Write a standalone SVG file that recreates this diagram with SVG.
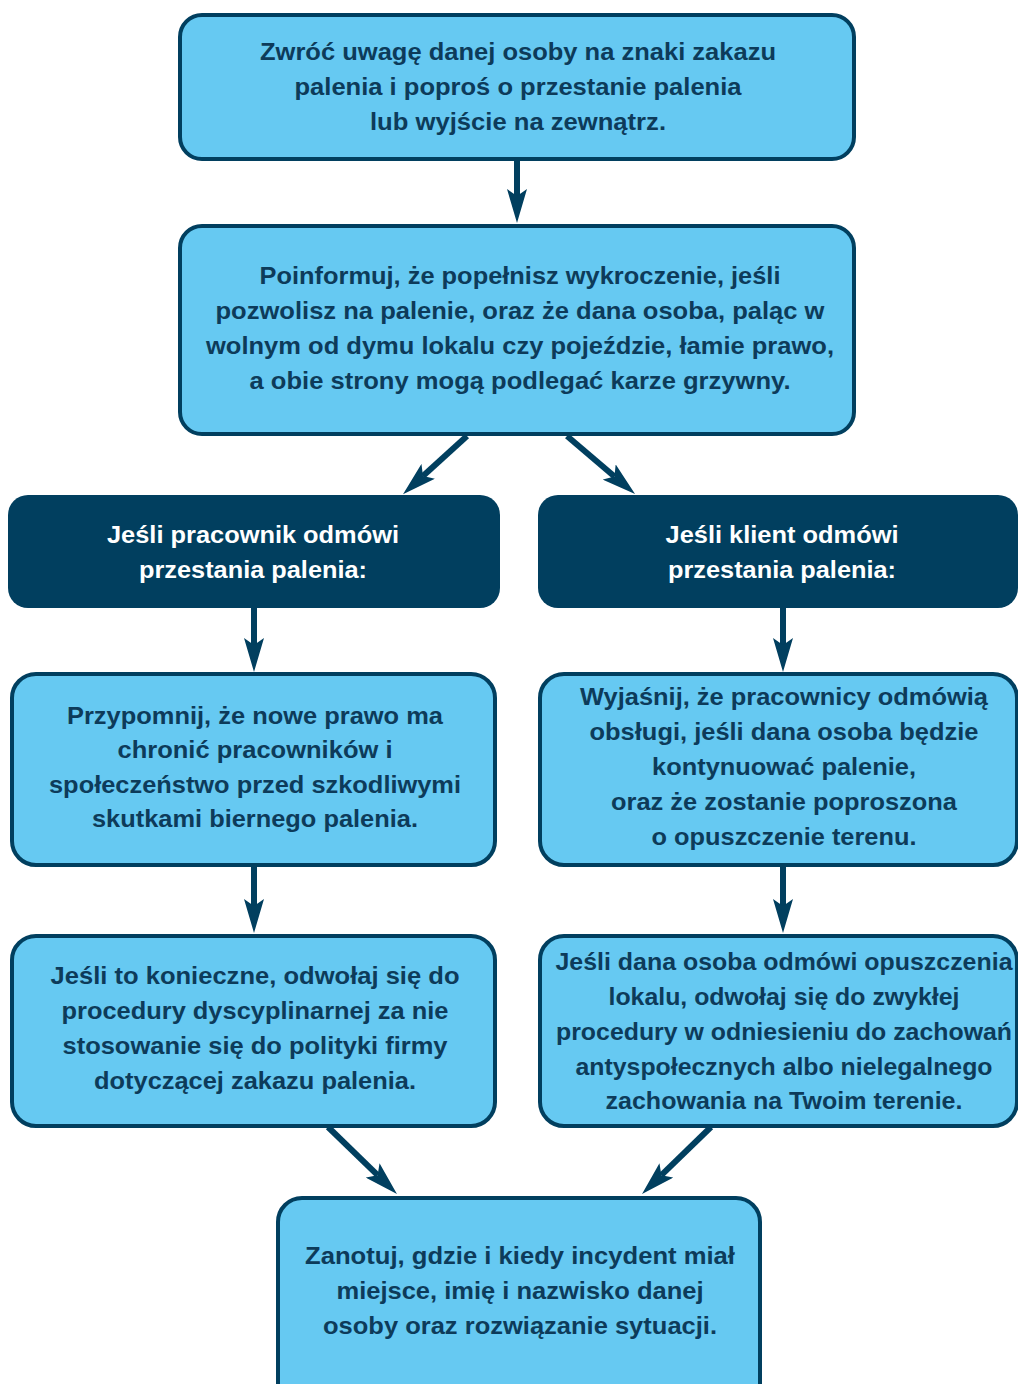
<svg xmlns="http://www.w3.org/2000/svg" width="1018" height="1384" viewBox="0 0 1018 1384">
<style>
.box{fill:#66C9F2;stroke:#013F5F;stroke-width:4}
.dark{fill:#013F5F}
.t{font-family:"Liberation Sans",Arial,sans-serif;font-weight:bold;font-size:24px;fill:#0D3B5A;text-anchor:middle}
.w{fill:#FFFFFF}
.c{stroke:#013F5F;stroke-width:6;fill:none;marker-end:url(#ah)}
</style>
<defs>
<marker id="ah" markerUnits="userSpaceOnUse" markerWidth="34" markerHeight="20" viewBox="0 0 34 20" refX="7" refY="10" orient="auto">
<path d="M0,0 L34,10 L0,20 L7,10 Z" fill="#013F5F"/>
</marker>
</defs>
<rect width="1018" height="1384" fill="#FFFFFF"/>
<g id="connectors">
<path class="c" d="M517,161 L517,196"/>
<path class="c" d="M467,436 L423,476"/>
<path class="c" d="M567,436 L614.5,476.5"/>
<path class="c" d="M254,608 L254,645"/>
<path class="c" d="M783,608 L783,645"/>
<path class="c" d="M254,866 L254,906"/>
<path class="c" d="M783,866 L783,906"/>
<path class="c" d="M328,1127 L377.6,1175.2"/>
<path class="c" d="M711,1127 L661.4,1175.2"/>
</g>
<g id="n1">
<rect class="box" x="180" y="15" width="674" height="144" rx="22"/>
<text class="t" x="518" y="60" textLength="516" lengthAdjust="spacingAndGlyphs">Zwróć uwagę danej osoby na znaki zakazu</text>
<text class="t" x="518" y="95" textLength="447" lengthAdjust="spacingAndGlyphs">palenia i poproś o przestanie palenia</text>
<text class="t" x="518" y="130" textLength="296" lengthAdjust="spacingAndGlyphs">lub wyjście na zewnątrz.</text>
</g>
<g id="n2">
<rect class="box" x="180" y="226" width="674" height="208" rx="22"/>
<text class="t" x="520" y="284" textLength="521" lengthAdjust="spacingAndGlyphs">Poinformuj, że popełnisz wykroczenie, jeśli</text>
<text class="t" x="520" y="319" textLength="609" lengthAdjust="spacingAndGlyphs">pozwolisz na palenie, oraz że dana osoba, paląc w</text>
<text class="t" x="520" y="354" textLength="628" lengthAdjust="spacingAndGlyphs">wolnym od dymu lokalu czy pojeździe, łamie prawo,</text>
<text class="t" x="520" y="389" textLength="541" lengthAdjust="spacingAndGlyphs">a obie strony mogą podlegać karze grzywny.</text>
</g>
<g id="n3">
<rect class="dark" x="8" y="495" width="492" height="113" rx="20"/>
<text class="t w" x="253" y="543" textLength="292" lengthAdjust="spacingAndGlyphs">Jeśli pracownik odmówi</text>
<text class="t w" x="253" y="578" textLength="228" lengthAdjust="spacingAndGlyphs">przestania palenia:</text>
</g>
<g id="n4">
<rect class="dark" x="538" y="495" width="480" height="113" rx="20"/>
<text class="t w" x="782" y="543" textLength="233" lengthAdjust="spacingAndGlyphs">Jeśli klient odmówi</text>
<text class="t w" x="782" y="578" textLength="228" lengthAdjust="spacingAndGlyphs">przestania palenia:</text>
</g>
<g id="n5">
<rect class="box" x="12" y="674" width="483" height="191" rx="24"/>
<text class="t" x="255" y="724" textLength="376" lengthAdjust="spacingAndGlyphs">Przypomnij, że nowe prawo ma</text>
<text class="t" x="255" y="758" textLength="275" lengthAdjust="spacingAndGlyphs">chronić pracowników i</text>
<text class="t" x="255" y="793" textLength="412" lengthAdjust="spacingAndGlyphs">społeczeństwo przed szkodliwymi</text>
<text class="t" x="255" y="827" textLength="326" lengthAdjust="spacingAndGlyphs">skutkami biernego palenia.</text>
</g>
<g id="n6">
<rect class="box" x="540" y="674" width="477" height="191" rx="24"/>
<text class="t" x="784" y="705" textLength="408" lengthAdjust="spacingAndGlyphs">Wyjaśnij, że pracownicy odmówią</text>
<text class="t" x="784" y="740" textLength="389" lengthAdjust="spacingAndGlyphs">obsługi, jeśli dana osoba będzie</text>
<text class="t" x="784" y="775" textLength="264" lengthAdjust="spacingAndGlyphs">kontynuować palenie,</text>
<text class="t" x="784" y="810" textLength="346" lengthAdjust="spacingAndGlyphs">oraz że zostanie poproszona</text>
<text class="t" x="784" y="845" textLength="265" lengthAdjust="spacingAndGlyphs">o opuszczenie terenu.</text>
</g>
<g id="n7">
<rect class="box" x="12" y="936" width="483" height="190" rx="24"/>
<text class="t" x="255" y="984" textLength="409" lengthAdjust="spacingAndGlyphs">Jeśli to konieczne, odwołaj się do</text>
<text class="t" x="255" y="1019" textLength="387" lengthAdjust="spacingAndGlyphs">procedury dyscyplinarnej za nie</text>
<text class="t" x="255" y="1054" textLength="385" lengthAdjust="spacingAndGlyphs">stosowanie się do polityki firmy</text>
<text class="t" x="255" y="1089" textLength="322" lengthAdjust="spacingAndGlyphs">dotyczącej zakazu palenia.</text>
</g>
<g id="n8">
<rect class="box" x="540" y="936" width="477" height="190" rx="24"/>
<text class="t" x="784" y="970" textLength="457" lengthAdjust="spacingAndGlyphs">Jeśli dana osoba odmówi opuszczenia</text>
<text class="t" x="784" y="1005" textLength="351" lengthAdjust="spacingAndGlyphs">lokalu, odwołaj się do zwykłej</text>
<text class="t" x="784" y="1040" textLength="456" lengthAdjust="spacingAndGlyphs">procedury w odniesieniu do zachowań</text>
<text class="t" x="784" y="1075" textLength="417" lengthAdjust="spacingAndGlyphs">antyspołecznych albo nielegalnego</text>
<text class="t" x="784" y="1109" textLength="357" lengthAdjust="spacingAndGlyphs">zachowania na Twoim terenie.</text>
</g>
<g id="n9">
<rect class="box" x="278" y="1198" width="482" height="210" rx="24"/>
<text class="t" x="520" y="1264" textLength="430" lengthAdjust="spacingAndGlyphs">Zanotuj, gdzie i kiedy incydent miał</text>
<text class="t" x="520" y="1299" textLength="367" lengthAdjust="spacingAndGlyphs">miejsce, imię i nazwisko danej</text>
<text class="t" x="520" y="1334" textLength="394" lengthAdjust="spacingAndGlyphs">osoby oraz rozwiązanie sytuacji.</text>
</g>
</svg>
